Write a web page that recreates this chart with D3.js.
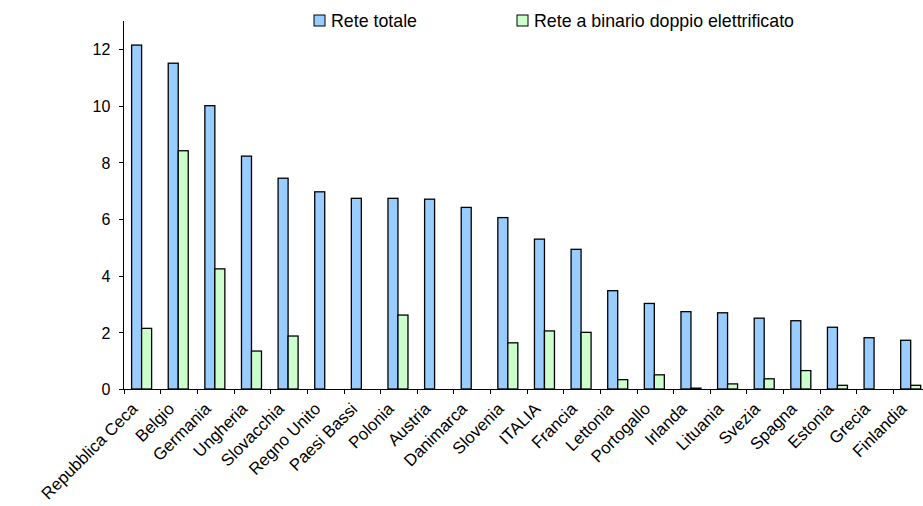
<!DOCTYPE html>
<html>
<head>
<meta charset="utf-8">
<script src="https://cdn.jsdelivr.net/npm/d3@7"></script>
<style>
  body { margin: 0; background: #fff; }
  svg { display: block; font-family: Arial, "Liberation Sans", sans-serif; }
  .axis path, .axis line { stroke: #000; shape-rendering: crispEdges; }
  .axis text { font-size: 16px; fill: #000; }
  .axis text.cat { font-size: 16.8px; }
  .legend text { font-size: 17.8px; fill: #000; }
</style>
</head>
<body>
<div id="chart"></div>
<script>

const countries = ['Repubblica Ceca', 'Belgio', 'Germania', 'Ungheria', 'Slovacchia', 'Regno Unito',
  'Paesi Bassi', 'Polonia', 'Austria', 'Danimarca', 'Slovenia', 'ITALIA', 'Francia', 'Lettonia',
  'Portogallo', 'Irlanda', 'Lituania', 'Svezia', 'Spagna', 'Estonia', 'Grecia', 'Finlandia'];

const reteTotale = [12.14, 11.5, 10.0, 8.22, 7.44, 6.96, 6.73, 6.73, 6.70, 6.41, 6.05, 5.29, 4.93,
  3.47, 3.02, 2.73, 2.69, 2.50, 2.41, 2.18, 1.81, 1.72];

const reteDoppia = [2.14, 8.41, 4.24, 1.34, 1.87, 0, 0, 2.61, 0, 0, 1.63, 2.05, 2.0,
  0.33, 0.5, 0.03, 0.18, 0.36, 0.65, 0.13, 0, 0.13];

const seriesNames = ['Rete totale', 'Rete a binario doppio elettrificato'];
const seriesColors = ['#99ccff', '#ccffcc'];
const yTicks = [0, 2, 4, 6, 8, 10, 12];

const width = 923, height = 506;

const svg = d3.select('#chart').append('svg')
  .attr('width', width)
  .attr('height', height);

const x = d3.scaleBand()
  .domain(countries)
  .range([124.3, 930])
  .padding(0);

const y = d3.scaleLinear()
  .domain([0, 13])
  .range([389, 20.7]);

const bw = x.bandwidth();
const xSub = d3.scaleBand()
  .domain(seriesNames)
  .range([bw / 2 - 11, bw / 2 + 9]);

const rows = countries.map((c, i) => ({ name: c, values: [reteTotale[i], reteDoppia[i]] }));

// Bars

const groups = svg.append('g').selectAll('g')
  .data(rows)
  .join('g')
  .attr('transform', d => `translate(${x(d.name)},0)`);

groups.selectAll('rect')
  .data(d => d.values.map((v, k) => ({ key: seriesNames[k], v, k })).filter(e => e.v > 0))
  .join('rect')
  .attr('x', e => xSub(e.key))
  .attr('width', xSub.bandwidth())
  .attr('y', e => y(e.v))
  .attr('height', e => y(0) - y(e.v))
  .attr('fill', e => seriesColors[e.k])
  .attr('stroke', '#000')
  .attr('stroke-width', 1.3);

// Axes

const yAxis = svg.append('g')
  .attr('class', 'axis')
  .attr('transform', 'translate(124.3,0)')
  .call(d3.axisLeft(y).tickValues(yTicks).tickSize(5).tickPadding(9).tickFormat(d3.format('d')));

yAxis.select('.domain').attr('d', `M-0.5,${y(0)}V${y(13)}`);
yAxis.selectAll('text').attr('dy', '0.36em');

const xAxis = svg.append('g')
  .attr('class', 'axis')
  .attr('transform', `translate(0,${y(0)})`);

xAxis.append('line')
  .attr('x1', 124).attr('x2', 930)
  .attr('y1', 0).attr('y2', 0);

xAxis.selectAll('line.tick')
  .data(countries.map(c => x(c)).concat([x(countries[countries.length - 1]) + bw]))
  .join('line')
  .attr('class', 'tick')
  .attr('x1', d => d).attr('x2', d => d)
  .attr('y1', 0).attr('y2', 5);

xAxis.selectAll('text')
  .data(countries)
  .join('text')
  .attr('class', 'cat')
  .attr('text-anchor', 'end')
  .attr('transform', c => `translate(${x(c) + bw / 2 - 4},${21}) rotate(-45)`)
  .text(c => c);

// Legend

const legend = svg.append('g').attr('class', 'legend');
const legendX = [314, 517];

seriesNames.forEach((name, k) => {
  legend.append('rect')
    .attr('x', legendX[k])
    .attr('y', 15)
    .attr('width', 11)
    .attr('height', 11)
    .attr('fill', seriesColors[k])
    .attr('stroke', '#000')
    .attr('stroke-width', 1);
  legend.append('text')
    .attr('x', legendX[k] + 17)
    .attr('y', 26.5)
    .text(name);
});

</script>
</body>
</html>
